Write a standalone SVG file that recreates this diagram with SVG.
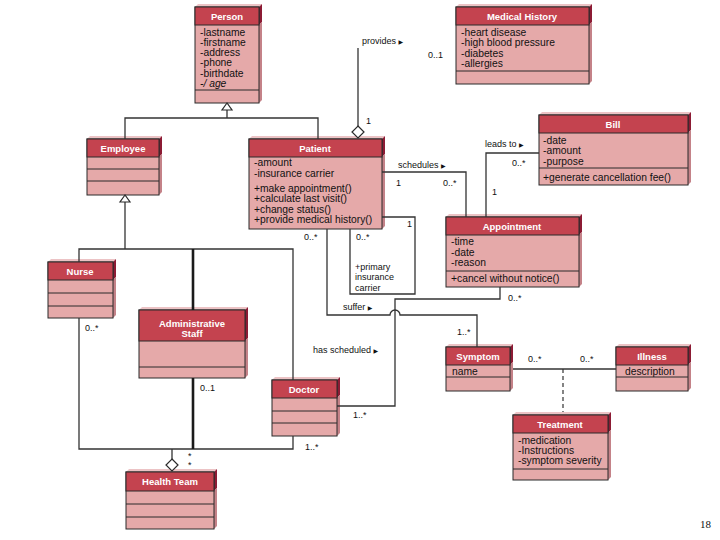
<svg xmlns="http://www.w3.org/2000/svg" width="720" height="540" viewBox="0 0 720 540">
<style>
.tp{fill:#ecc3c5}
.sd{fill:#8c1b34}
.sl{fill:#c48288}
.bd{fill:#e5a9a9;stroke:#2a2a2a;stroke-width:1}
.hd{fill:#c4434f;stroke:#2a2a2a;stroke-width:1}
.dv{stroke:#2a2a2a;stroke-width:1}
.t{font-family:"Liberation Sans","DejaVu Sans",sans-serif;font-weight:bold;font-size:9.5px;fill:#fff;text-anchor:middle}
.a{font-family:"Liberation Sans","DejaVu Sans",sans-serif;font-size:10.3px;fill:#111}
.l{font-family:"Liberation Sans","DejaVu Sans",sans-serif;font-size:9px;fill:#111}
.ln{stroke:#333;stroke-width:1.3;fill:none}
.th{stroke:#1a1a1a;stroke-width:2.6;fill:none}
.ds{stroke:#333;stroke-width:1.2;fill:none;stroke-dasharray:4 3}
.oh{fill:#fff;stroke:#2a2a2a;stroke-width:1.2}
.ar{font-family:"DejaVu Sans",sans-serif;font-size:6px}
</style>
<rect width="720" height="540" fill="#fff"/>

<g id="person">
<polygon class="tp" points="195,7 198,4 262,4 259,7"/>
<polygon class="sd" points="259,7 262,4 262,22 259,25"/>
<polygon class="sl" points="259,25 262,22 262,100 259,103"/>
<rect class="bd" x="195" y="7" width="64" height="96"/>
<rect class="hd" x="195" y="7" width="64" height="18"/>
<line class="dv" x1="195" y1="90" x2="259" y2="90"/>
<text class="t" x="227" y="19.5">Person</text>
<text class="a" x="200" y="35.5">-lastname</text>
<text class="a" x="200" y="45.5">-firstname</text>
<text class="a" x="200" y="55.5">-address</text>
<text class="a" x="200" y="66">-phone</text>
<text class="a" x="200" y="76.5">-birthdate</text>
<text class="a" x="200" y="87" font-style="italic">-/ age</text>
</g>

<g id="medical-history">
<polygon class="tp" points="456,7 459,4 592,4 589,7"/>
<polygon class="sd" points="589,7 592,4 592,22 589,25"/>
<polygon class="sl" points="589,25 592,22 592,81 589,84"/>
<rect class="bd" x="456" y="7" width="133" height="77"/>
<rect class="hd" x="456" y="7" width="133" height="18"/>
<line class="dv" x1="456" y1="71" x2="589" y2="71"/>
<text class="t" x="522" y="19.5">Medical History</text>
<text class="a" x="461" y="35.5">-heart disease</text>
<text class="a" x="461" y="46">-high blood pressure</text>
<text class="a" x="461" y="56.5">-diabetes</text>
<text class="a" x="461" y="67">-allergies</text>
</g>

<g id="bill">
<polygon class="tp" points="539,115 542,112 691,112 688,115"/>
<polygon class="sd" points="688,115 691,112 691,130 688,133"/>
<polygon class="sl" points="688,133 691,130 691,182 688,185"/>
<rect class="bd" x="539" y="115" width="149" height="70"/>
<rect class="hd" x="539" y="115" width="149" height="18"/>
<line class="dv" x1="539" y1="168" x2="688" y2="168"/>
<text class="t" x="613" y="127.5" font-size="8.5">Bill</text>
<text class="a" x="543" y="143.5">-date</text>
<text class="a" x="543" y="154">-amount</text>
<text class="a" x="543" y="164.5">-purpose</text>
<text class="a" x="543" y="181">+generate cancellation fee()</text>
</g>

<g id="employee">
<polygon class="tp" points="87,139 90,136 162,136 159,139"/>
<polygon class="sd" points="159,139 162,136 162,154 159,157"/>
<polygon class="sl" points="159,157 162,154 162,192 159,195"/>
<rect class="bd" x="87" y="139" width="72" height="56"/>
<rect class="hd" x="87" y="139" width="72" height="18"/>
<line class="dv" x1="87" y1="169" x2="159" y2="169"/>
<line class="dv" x1="87" y1="181" x2="159" y2="181"/>
<text class="t" x="123" y="151.5">Employee</text>
</g>

<g id="patient">
<polygon class="tp" points="249,139 252,136 385,136 382,139"/>
<polygon class="sd" points="382,139 385,136 385,154 382,157"/>
<polygon class="sl" points="382,157 385,154 385,226 382,229"/>
<rect class="bd" x="249" y="139" width="133" height="90"/>
<rect class="hd" x="249" y="139" width="133" height="18"/>
<text class="t" x="315" y="151.5">Patient</text>
<text class="a" x="254" y="165.5">-amount</text>
<text class="a" x="254" y="176.5">-insurance carrier</text>
<text class="a" x="254" y="191.5">+make appointment()</text>
<text class="a" x="254" y="202" font-size="9.5">+calculate last visit()</text>
<text class="a" x="254" y="212.5">+change status()</text>
<text class="a" x="254" y="223">+provide medical history()</text>
</g>

<g id="appointment">
<polygon class="tp" points="446,217 449,214 582,214 579,217"/>
<polygon class="sd" points="579,217 582,214 582,232 579,235"/>
<polygon class="sl" points="579,235 582,232 582,284 579,287"/>
<rect class="bd" x="446" y="217" width="133" height="70"/>
<rect class="hd" x="446" y="217" width="133" height="18"/>
<line class="dv" x1="446" y1="271" x2="579" y2="271"/>
<text class="t" x="512" y="229.5">Appointment</text>
<text class="a" x="451" y="244.5">-time</text>
<text class="a" x="451" y="255.5">-date</text>
<text class="a" x="451" y="265.5">-reason</text>
<text class="a" x="451" y="282">+cancel without notice()</text>
</g>

<g id="nurse">
<polygon class="tp" points="48,262 51,259 116,259 113,262"/>
<polygon class="sd" points="113,262 116,259 116,277 113,280"/>
<polygon class="sl" points="113,280 116,277 116,315 113,318"/>
<rect class="bd" x="48" y="262" width="65" height="56"/>
<rect class="hd" x="48" y="262" width="65" height="18"/>
<line class="dv" x1="48" y1="293" x2="113" y2="293"/>
<line class="dv" x1="48" y1="306" x2="113" y2="306"/>
<text class="t" x="80" y="274.5">Nurse</text>
</g>

<g id="administrative-staff">
<polygon class="tp" points="139,310 142,307 248,307 245,310"/>
<polygon class="sd" points="245,310 248,307 248,338 245,341"/>
<polygon class="sl" points="245,341 248,338 248,375 245,378"/>
<rect class="bd" x="139" y="310" width="106" height="68"/>
<rect class="hd" x="139" y="310" width="106" height="31"/>
<line class="dv" x1="139" y1="367" x2="245" y2="367"/>
<text class="t" x="192" y="326.5">Administrative</text>
<text class="t" x="192" y="336.5" font-size="8">Staff</text>
</g>

<g id="doctor">
<polygon class="tp" points="272,380 275,377 340,377 337,380"/>
<polygon class="sd" points="337,380 340,377 340,395 337,398"/>
<polygon class="sl" points="337,398 340,395 340,433 337,436"/>
<rect class="bd" x="272" y="380" width="65" height="56"/>
<rect class="hd" x="272" y="380" width="65" height="18"/>
<line class="dv" x1="272" y1="411" x2="337" y2="411"/>
<line class="dv" x1="272" y1="423" x2="337" y2="423"/>
<text class="t" x="304" y="392.5" font-size="8.5">Doctor</text>
</g>

<g id="health-team">
<polygon class="tp" points="126,472 129,469 217,469 214,472"/>
<polygon class="sd" points="214,472 217,469 217,488 214,491"/>
<polygon class="sl" points="214,491 217,488 217,526 214,529"/>
<rect class="bd" x="126" y="472" width="88" height="57"/>
<rect class="hd" x="126" y="472" width="88" height="19"/>
<line class="dv" x1="126" y1="504" x2="214" y2="504"/>
<line class="dv" x1="126" y1="517" x2="214" y2="517"/>
<text class="t" x="170" y="485">Health Team</text>
</g>

<g id="symptom">
<polygon class="tp" points="446,347 449,344 513,344 510,347"/>
<polygon class="sd" points="510,347 513,344 513,362 510,365"/>
<polygon class="sl" points="510,365 513,362 513,388 510,391"/>
<rect class="bd" x="446" y="347" width="64" height="44"/>
<rect class="hd" x="446" y="347" width="64" height="18"/>
<line class="dv" x1="446" y1="377" x2="510" y2="377"/>
<text class="t" x="478" y="359.5">Symptom</text>
<text class="a" x="452" y="374.5">name</text>
</g>

<g id="illness">
<polygon class="tp" points="616,347 619,344 691,344 688,347"/>
<polygon class="sd" points="688,347 691,344 691,362 688,365"/>
<polygon class="sl" points="688,365 691,362 691,388 688,391"/>
<rect class="bd" x="616" y="347" width="72" height="44"/>
<rect class="hd" x="616" y="347" width="72" height="18"/>
<line class="dv" x1="616" y1="377" x2="688" y2="377"/>
<text class="t" x="652" y="359.5">Illness</text>
<text class="a" x="625" y="374.5">description</text>
</g>

<g id="treatment">
<polygon class="tp" points="513,415 516,412 611,412 608,415"/>
<polygon class="sd" points="608,415 611,412 611,430 608,433"/>
<polygon class="sl" points="608,433 611,430 611,477 608,480"/>
<rect class="bd" x="513" y="415" width="95" height="65"/>
<rect class="hd" x="513" y="415" width="95" height="18"/>
<line class="dv" x1="513" y1="469" x2="608" y2="469"/>
<text class="t" x="560" y="427.5">Treatment</text>
<text class="a" x="518" y="443.5">-medication</text>
<text class="a" x="518" y="453.5">-Instructions</text>
<text class="a" x="518" y="464">-symptom severity</text>
</g>

<g id="connectors">
<polyline class="ln" points="125,139 125,118 318,118 318,139"/>
<line class="ln" x1="227" y1="110" x2="227" y2="118"/>
<polygon class="oh" points="227,103 222,110 232,110"/>
<line class="ln" x1="125" y1="202" x2="125" y2="249"/>
<polyline class="ln" points="79,262 79,249 293,249 293,380"/>
<line class="th" x1="193" y1="249" x2="193" y2="310"/>
<polygon class="oh" points="125,195 120,202 130,202"/>
<polyline class="ln" points="79,318 79,449 293,449 293,436"/>
<line class="th" x1="193" y1="378" x2="193" y2="449"/>
<line class="ln" x1="172" y1="449" x2="172" y2="459"/>
<polygon class="oh" points="172,459 178,465 172,471 166,465"/>
<line class="ln" x1="358" y1="48" x2="358" y2="126"/>
<polygon class="oh" points="358,126 364,132 358,138 352,132"/>
<polyline class="ln" points="382,172 466,172 466,217"/>
<polyline class="ln" points="486,217 486,153 539,153"/>
<polyline class="ln" points="382,217 415,217 415,294 350,294 350,229"/>
<path class="ln" d="M327,229 V315 H390 A5,5 0 0 1 400,315 H477 V347"/>
<polyline class="ln" points="337,406 395,406 395,299 500,299 500,287"/>
<line class="ln" x1="513" y1="369" x2="616" y2="369"/>
<line class="ds" x1="563" y1="369" x2="563" y2="412"/>
</g>

<g id="labels">
<text class="l" x="362" y="44">provides <tspan class="ar">▶</tspan></text>
<text class="l" x="366" y="124">1</text>
<text class="l" x="428" y="58">0..1</text>
<text class="l" x="398" y="168">schedules <tspan class="ar">▶</tspan></text>
<text class="l" x="396" y="185.5">1</text>
<text class="l" x="443" y="185.5">0..*</text>
<text class="l" x="485" y="147">leads to <tspan class="ar">▶</tspan></text>
<text class="l" x="512" y="166">0..*</text>
<text class="l" x="492" y="195">1</text>
<text class="l" x="407" y="227">1</text>
<text class="l" x="356" y="240">0..*</text>
<text class="l" x="355" y="269.5" font-size="10">+primary</text>
<text class="l" x="355" y="279.5" font-size="8.5">insurance</text>
<text class="l" x="355" y="290.5">carrier</text>
<text class="l" x="304" y="240">0..*</text>
<text class="l" x="343" y="310">suffer <tspan class="ar">▶</tspan></text>
<text class="l" x="457" y="335">1..*</text>
<text class="l" x="313" y="352.5">has scheduled <tspan class="ar">▶</tspan></text>
<text class="l" x="508" y="300.5">0..*</text>
<text class="l" x="353" y="418">1..*</text>
<text class="l" x="528" y="362">0..*</text>
<text class="l" x="580" y="362">0..*</text>
<text class="l" x="85" y="331">0..*</text>
<text class="l" x="200" y="391">0..1</text>
<text class="l" x="305" y="450">1..*</text>
<text class="l" x="188" y="459" font-size="7">*</text>
<text class="l" x="188" y="468" font-size="7">*</text>
</g>

<text x="700" y="528" font-family="'Liberation Serif',serif" font-size="11" fill="#111">18</text>
</svg>
